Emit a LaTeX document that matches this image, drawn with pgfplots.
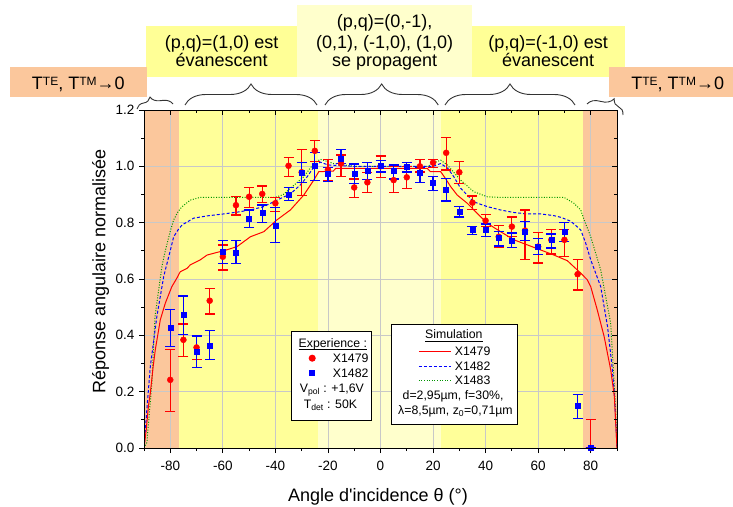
\documentclass[border=0pt]{standalone}
\usepackage{pgfplots}
\pgfplotsset{compat=1.18}
\usepackage{pgfplotstable}
\usepackage{fontspec}
\setmainfont{Liberation Sans}
\usetikzlibrary{decorations.pathreplacing}
\definecolor{orng}{RGB}{251,199,156}
\definecolor{ylw}{RGB}{255,255,153}
\definecolor{lylw}{RGB}{255,255,204}
\definecolor{boxylw}{RGB}{255,255,150}
\definecolor{grn}{RGB}{0,150,0}
\definecolor{gridc}{RGB}{200,200,200}
\newcommand\bigf{\fontsize{18}{18.5}\selectfont}
\newcommand\legf{\fontsize{12.3}{14}\selectfont}
\newcommand\ul[1]{\setbox0\hbox{#1}\rlap{\rule[-2.6pt]{\wd0}{0.8pt}}#1}
\newcommand\supr[1]{\raisebox{4.3pt}{\fontsize{12}{12}\selectfont #1}}
\pgfplotsset{
 redleg/.style={legend image code/.code={\path[draw=none,fill=none] (0pt,0pt) -- (41.4pt,0pt); \draw[red, only marks, mark=*, mark size=3pt] plot coordinates {(20.7pt,0pt)};}},
 blueleg/.style={legend image code/.code={\path[draw=none,fill=none] (0pt,0pt) -- (41.4pt,0pt); \draw[blue, only marks, mark=square*, mark size=2.5pt] plot coordinates {(20.7pt,0pt)};}},
 simleg/.style={legend image code/.code={\path[draw=none,fill=none] (0pt,0pt) -- (63.3pt,0pt); \draw[#1] (27.3pt,0pt) -- (59pt,0pt);}},
 frame/.style={at={(144pt,-448pt)}, anchor=south west,
  scale only axis, width=473pt, height=338pt,
  xmin=-90, xmax=90, ymin=0, ymax=1.2},
}

\pgfplotstableread{
x y ep em
-80 0.242 0.107 0.112
-75 0.384 0.056 0.059
-70 0.357 0.041 0.044
-65 0.523 0.042 0.047
-60 0.679 0.042 0.047
-55 0.862 0.030 0.035
-50 0.892 0.032 0.037
-45 0.902 0.028 0.030
-40 0.869 0.020 0.028
-35 1.002 0.030 0.039
-30 0.979 0.081 0.083
-25 1.055 0.036 0.039
-20 0.988 0.037 0.040
-15 1.010 0.030 0.045
-10 0.925 0.030 0.035
-5 0.943 0.034 0.037
0 1.000 0.037 0.040
5 0.951 0.048 0.043
10 0.961 0.038 0.041
15 1.000 0.023 0.020
20 1.013 0.012 0.016
25 1.048 0.053 0.061
30 0.979 0.037 0.039
35 0.871 0.024 0.025
40 0.807 0.021 0.020
45 0.750 0.040 0.039
50 0.786 0.034 0.036
55 0.772 0.073 0.104
60 0.715 0.050 0.058
65 0.739 0.037 0.050
70 0.739 0.037 0.058
75 0.617 0.051 0.056
80 0.000 0.100 0.000
}\redexp

\pgfplotstableread{
x y ep em
-80 0.427 0.064 0.067
-75 0.473 0.067 0.071
-70 0.343 0.055 0.056
-65 0.364 0.052 0.051
-60 0.697 0.039 0.041
-55 0.695 0.041 0.041
-50 0.814 0.031 0.030
-45 0.834 0.029 0.034
-40 0.788 0.067 0.059
-35 0.900 0.025 0.020
-30 0.977 0.036 0.035
-25 1.002 0.048 0.051
-20 0.973 0.022 0.028
-15 1.028 0.033 0.017
-10 0.973 0.035 0.035
-5 0.983 0.030 0.029
0 1.002 0.020 0.022
5 0.984 0.021 0.029
10 0.999 0.015 0.019
15 0.977 0.019 0.034
20 0.942 0.023 0.027
25 0.918 0.039 0.041
30 0.839 0.018 0.019
35 0.774 0.013 0.015
40 0.774 0.021 0.024
45 0.746 0.024 0.029
50 0.736 0.027 0.025
55 0.768 0.035 0.030
60 0.713 0.030 0.027
65 0.739 0.021 0.029
70 0.768 0.034 0.035
75 0.150 0.041 0.046
80 0.000 0.000 0.000
}\blueexp

\pgfplotstableread{
x y
-90 0
-89.2 0.06
-88.3 0.15
-87.6 0.195
-86.5 0.29
-85.7 0.349
-83.8 0.455
-81.9 0.514
-79.4 0.573
-77.5 0.603
-76.2 0.626
-73.6 0.638
-72.4 0.65
-68.6 0.668
-66 0.685
-62 0.695
-59.7 0.700
-54.6 0.715
-49.5 0.75
-44.4 0.768
-39.4 0.81
-34.3 0.845
-29.2 0.898
-25.4 0.951
-23.5 0.981
-18 0.983
-17 0.993
0 0.993
17.8 0.993
19 0.981
22.9 0.981
24.5 0.96
26.7 0.928
29.2 0.898
33 0.869
36.2 0.839
40.6 0.798
45.7 0.768
50.8 0.739
55.9 0.721
61 0.703
66 0.685
71.1 0.665
74.9 0.632
76.2 0.621
78.7 0.597
80 0.573
82.5 0.49
85.1 0.396
87.6 0.278
89 0.183
90 0
}\redsim

\pgfplotstableread{
x y
-90 0
-88.8 0.15
-87.6 0.289
-85.1 0.467
-82.5 0.609
-80.3 0.69
-78.7 0.75
-77 0.775
-75.5 0.792
-71.1 0.816
-66 0.824
-59.7 0.831
-53.3 0.839
-48.3 0.848
-44.4 0.857
-39.4 0.88
-34.3 0.902
-30.5 0.934
-27.9 0.963
-24.8 1.005
-22.9 1.015
-20 1.005
-10 1.0
10 1.0
20 1.0
22.9 1.01
25.6 0.993
27.9 0.963
30.5 0.922
35.5 0.874
40.6 0.857
45.7 0.845
50.8 0.836
55.9 0.831
61 0.831
66 0.825
68.6 0.819
71.1 0.81
72.4 0.805
74.9 0.785
76.2 0.774
78 0.73
80 0.668
83.8 0.573
86.4 0.431
88 0.3
89 0.195
90 0
}\bluesim

\pgfplotstableread{
x y
-90 0
-88.9 0.02
-88 0.12
-87 0.23
-85.8 0.467
-83.2 0.644
-81.9 0.70
-80 0.77
-78.7 0.81
-77 0.84
-75.5 0.857
-72.4 0.880
-68.6 0.890
-40 0.890
-37 0.900
-34.3 0.922
-29.2 0.963
-25.4 1.010
-22.9 1.025
-17.8 1.010
-10 1.0
10 1.0
18 1.0
21 1.015
22.9 1.022
25.4 1.005
30.5 0.951
35.5 0.910
40.6 0.892
45 0.890
69.8 0.890
73.6 0.869
76.2 0.845
77.5 0.81
80 0.75
83.8 0.632
87.6 0.443
89.5 0.136
90 0
}\greensim

\begin{document}
\begin{tikzpicture}
\path[use as bounding box] (0,0) rectangle (733pt,-506pt);
% background bands
\begin{axis}[frame, hide axis]
\addplot[draw=none, fill=orng] coordinates {(-90,0) (-90,1.2) (-76.8,1.2) (-76.8,0)};
\addplot[draw=none, fill=ylw] coordinates {(-76.8,0) (-76.8,1.2) (-23.8,1.2) (-23.8,0)};
\addplot[draw=none, fill=lylw] coordinates {(-23.8,0) (-23.8,1.2) (23.0,1.2) (23.0,0)};
\addplot[draw=none, fill=ylw] coordinates {(23.0,0) (23.0,1.2) (77.0,1.2) (77.0,0)};
\addplot[draw=none, fill=orng] coordinates {(77.0,0) (77.0,1.2) (90,1.2) (90,0)};
\end{axis}

\begin{axis}[
  frame,
  axis line style={line width=0.9pt},
  xtick={-80,-60,-40,-20,0,20,40,60,80},
  xticklabels={-80,-60,-40,-20,0,20,40,60,80},
  minor xtick={-90,-70,-50,-30,-10,10,30,50,70,90},
  ytick={0,0.2,0.4,0.6,0.8,1.0,1.2},
  yticklabels={0.0,0.2,0.4,0.6,0.8,1.0,1.2},
  minor ytick={0.1,0.3,0.5,0.7,0.9,1.1},
  tick align=outside, xtick pos=left, ytick pos=left,
  major tick length=5pt, minor tick length=3pt,
  tick style={black, line width=0.8pt},
  grid=major, major grid style={gridc, line width=0.8pt},
  tick label style={font=\fontsize{13.5}{15}\selectfont},
  xticklabel style={yshift=-5pt},
  yticklabel style={xshift=-1pt},
  legend cell align=left,
  legend style={at={(0.3108,0.3462)}, anchor=north west, draw=black, line width=1pt, fill=white,
    inner xsep=0pt, inner ysep=4.05pt, font=\legf, row sep=0pt,
    nodes={inner sep=0pt, text height=, text depth=}},
]
\addplot[grn, line width=1pt, dash pattern=on 1pt off 1.6pt, forget plot] table[x=x,y=y] {\greensim};
\addplot[blue, line width=1pt, dash pattern=on 3pt off 2pt, forget plot] table[x=x,y=y] {\bluesim};
\addplot[red, line width=1pt, forget plot] table[x=x,y=y] {\redsim};

\addlegendimage{empty legend}
\addlegendentry{\hspace*{-34.2pt}\ul{Experience :}\rule[-3.15pt]{0pt}{15.1pt}}
\addplot[red, only marks, mark=*, mark size=3pt, redleg,
  error bars/.cd, y dir=both, y explicit,
  error bar style={line width=1.2pt, red},
  error mark options={rotate=90, mark size=5pt, line width=1.2pt, red}]
  table[x=x, y=y, y error plus=ep, y error minus=em] {\redexp};
\addlegendentry{X1479\rule[-3.15pt]{0pt}{15.1pt}\hspace*{3pt}}
\addplot[blue, only marks, mark=square*, mark size=2.5pt, blueleg,
  error bars/.cd, y dir=both, y explicit,
  error bar style={line width=1.2pt, blue},
  error mark options={rotate=90, mark size=5pt, line width=1.2pt, blue}]
  table[x=x, y=y, y error plus=ep, y error minus=em] {\blueexp};
\addlegendentry{X1482\rule[-3.15pt]{0pt}{15.1pt}}
\addlegendimage{empty legend}
\addlegendentry{\hspace*{-33.1pt}V\textsubscript{pol} : +1,6V\rule[-3.15pt]{0pt}{15.1pt}}
\addlegendimage{empty legend}
\addlegendentry{\hspace*{-29.1pt}T\textsubscript{det} : 50K\rule[-7.55pt]{0pt}{19.5pt}}
\end{axis}

\begin{axis}[
  frame,
  axis line style={line width=0.9pt},
  xtick={-80,-60,-40,-20,0,20,40,60,80},
  minor xtick={-90,-70,-50,-30,-10,10,30,50,70,90},
  ytick={0,0.2,0.4,0.6,0.8,1.0,1.2},
  minor ytick={0.1,0.3,0.5,0.7,0.9,1.1},
  xticklabels={}, yticklabels={},
  tick align=inside, xtick pos=right, ytick pos=right,
  major tick length=5pt, minor tick length=3pt,
  tick style={black, line width=0.8pt},
  legend cell align=left,
  legend style={at={(0.5222,0.3669)}, anchor=north west, draw=black, line width=1pt, fill=white,
    inner xsep=0pt, inner ysep=2.95pt, font=\legf, row sep=0pt,
    nodes={inner sep=0pt, text height=, text depth=}},
]
\addplot[draw=none, forget plot] coordinates {(-90,0) (90,1.2)};
\addlegendimage{empty legend}
\addlegendentry{\hspace*{-29.7pt}\ul{Simulation}\rule[-5.35pt]{0pt}{16.7pt}}
\addlegendimage{simleg={red, line width=1pt}}
\addlegendentry{X1479\rule[-3.35pt]{0pt}{14.7pt}}
\addlegendimage{simleg={blue, line width=1pt, dash pattern=on 3pt off 2pt}}
\addlegendentry{X1482\rule[-3.35pt]{0pt}{14.7pt}}
\addlegendimage{simleg={grn, line width=1pt, dash pattern=on 1pt off 1.6pt}}
\addlegendentry{X1483\rule[-3.35pt]{0pt}{14.7pt}}
\addlegendimage{empty legend}
\addlegendentry{\hspace*{-52.1pt}d=2,95µm, f=30\%,\rule[-3.35pt]{0pt}{14.7pt}}
\addlegendimage{empty legend}
\addlegendentry{\hspace*{-56.6pt}λ=8,5µm, z\textsubscript{0}=0,71µm\rule[-7.2pt]{0pt}{18.55pt}\hspace*{5.3pt}}
\end{axis}

\begin{scope}[x=1pt, y=-1pt]
 \fill[boxylw] (146,26) rectangle (297,77.3);
 \fill[lylw] (297,5) rectangle (472,77.3);
 \fill[boxylw] (472,26) rectangle (625.3,77.3);
 \fill[orng] (10,66.7) rectangle (147,96.7);
 \fill[orng] (609.3,66.7) rectangle (733,96.7);
 \node[anchor=base, inner sep=0pt] at (78.3,89.3) {\bigf T\supr{TE}, T\supr{TM}→0};
 \node[anchor=base, inner sep=0pt] at (677.7,89.3) {\bigf T\supr{TE}, T\supr{TM}→0};
 \node[anchor=base, inner sep=0pt] at (221.6,48.3) {\bigf (p,q)=(1,0) est};
 \node[anchor=base, inner sep=0pt] at (221.6,66.7) {\bigf évanescent};
 \node[anchor=base, inner sep=0pt] at (384.6,27.7) {\bigf (p,q)=(0,-1),};
 \node[anchor=base, inner sep=0pt] at (384.6,48.3) {\bigf (0,1), (-1,0), (1,0)};
 \node[anchor=base, inner sep=0pt] at (384.6,66.7) {\bigf se propagent};
 \node[anchor=base, inner sep=0pt] at (548.2,48.3) {\bigf (p,q)=(-1,0) est};
 \node[anchor=base, inner sep=0pt] at (548.2,66.7) {\bigf évanescent};
 \begin{scope}[draw=black!80, line width=0.9pt]
  \draw[decorate, decoration={brace, amplitude=10pt, aspect=0.4}] (137,109) -- (173,104);
  \draw[decorate, decoration={brace, amplitude=21pt}] (185,105) -- (317,105);
  \draw[decorate, decoration={brace, amplitude=21pt}] (325,105) -- (438.3,105);
  \draw[decorate, decoration={brace, amplitude=21pt}] (445,105) -- (575,105);
  \draw[decorate, decoration={brace, amplitude=13pt, aspect=0.65}] (587,104) -- (623,115);
 \end{scope}
 \node[rotate=90, inner sep=0pt] at (100.5,271) {\fontsize{18}{20}\selectfont Réponse angulaire normalisée};
 \node[anchor=base, inner sep=0pt] at (378,501) {\fontsize{18}{20}\selectfont Angle d\textquotesingle incidence θ (°)};
\end{scope}
\end{tikzpicture}
\end{document}
